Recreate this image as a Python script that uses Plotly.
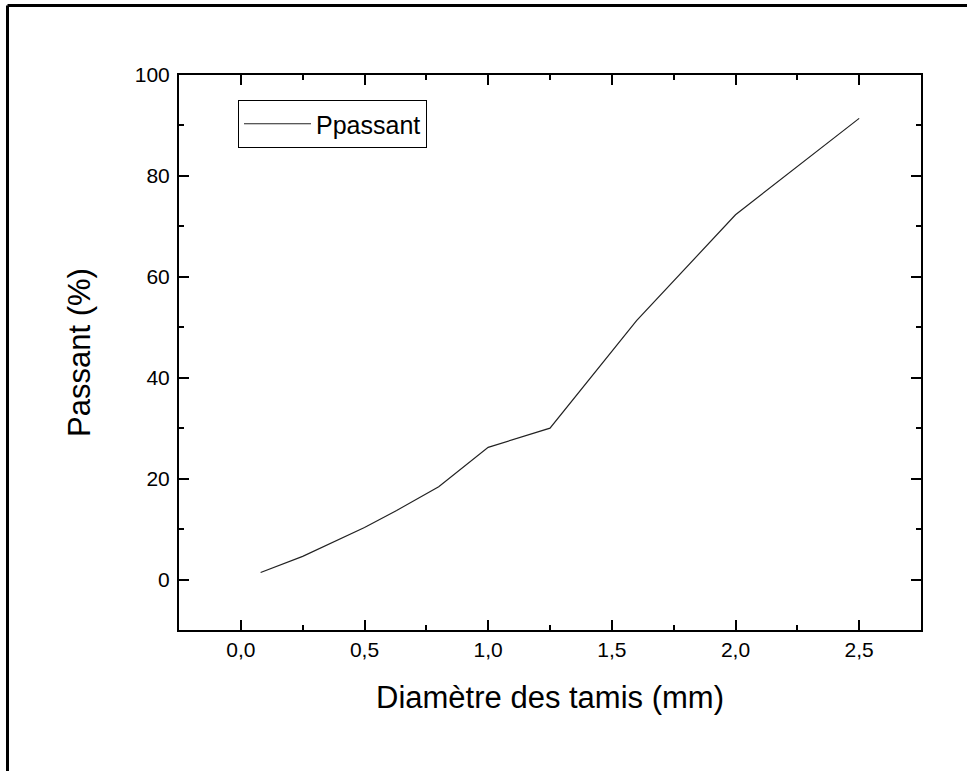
import plotly.graph_objects as go

# Data
diameters = [0.08, 0.25, 0.5, 0.63, 0.8, 1.0, 1.25, 1.6, 2.0, 2.5]
passant = [1.4, 4.6, 10.3, 13.7, 18.4, 26.2, 30.0, 51.3, 72.3, 91.4]
series_name = "Ppassant"
x_title = "Diamètre des tamis (mm)"
y_title = "Passant (%)"
x_ticks = [0.0, 0.5, 1.0, 1.5, 2.0, 2.5]
x_ticklabels = ["0,0", "0,5", "1,0", "1,5", "2,0", "2,5"]
y_ticks = [0, 20, 40, 60, 80, 100]

W, H = 967, 771
L, R, T, B = 179, 46, 75, 141

fig = go.Figure()
fig.add_trace(go.Scatter(x=diameters, y=passant, mode="lines", name=series_name,
                         line=dict(color="#222222", width=1.2), showlegend=True))

font = "Arial, Liberation Sans, sans-serif"
axis_common = dict(
    showline=True, linecolor="black", linewidth=2, mirror="ticks",
    ticks="inside", ticklen=10, tickwidth=2, tickcolor="black",
    showgrid=False, zeroline=False,
    tickfont=dict(family=font, size=21, color="black"),
)
fig.update_xaxes(range=[-0.25, 2.75], tickvals=x_ticks, ticktext=x_ticklabels,
                 minor=dict(dtick=0.25, ticks="inside", ticklen=5, tickwidth=2, tickcolor="black", showgrid=False),
                 title=dict(text=x_title, font=dict(family=font, size=31, color="black"), standoff=26),
                 **axis_common)
fig.update_yaxes(range=[-10, 100], tickvals=y_ticks, ticklabelstandoff=3,
                 minor=dict(dtick=10, ticks="inside", ticklen=5, tickwidth=2, tickcolor="black", showgrid=False),
                 title=dict(text=y_title, font=dict(family=font, size=31, color="black"), standoff=35),
                 **axis_common)

pw, ph = W - L - R, H - T - B
def px_x(p):
    return (p - L) / pw
def px_y(p):
    return (H - B - p) / ph

shapes = [
    dict(type="line", xref="paper", yref="paper", x0=px_x(7.5), x1=px_x(990), y0=px_y(5.5), y1=px_y(5.5),
         line=dict(color="black", width=3)),
    dict(type="line", xref="paper", yref="paper", x0=px_x(7.5), x1=px_x(7.5), y0=px_y(5.5), y1=px_y(790),
         line=dict(color="black", width=3)),
]

fig.update_layout(
    width=W, height=H,
    margin=dict(l=L, r=R, t=T, b=B),
    paper_bgcolor="white", plot_bgcolor="white",
    shapes=shapes,
    legend=dict(x=px_x(238), y=px_y(100), xanchor="left", yanchor="top",
                bordercolor="black", borderwidth=1, bgcolor="white", itemwidth=67,
                font=dict(family=font, size=25, color="black")),
)

fig.write_html("out.html", config={"displayModeBar": False},
               post_script="document.body.style.margin='0';document.body.style.overflow='hidden';")
